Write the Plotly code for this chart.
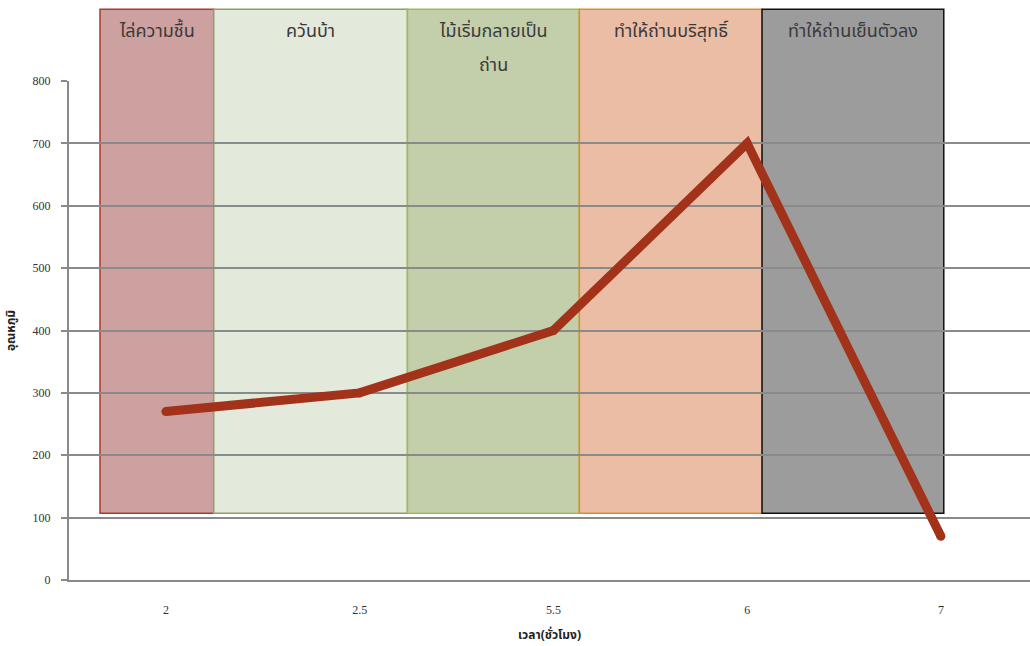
import plotly.graph_objects as go

categories = ["2", "2.5", "5.5", "6", "7"]
temperature = [270, 300, 400, 700, 70]

stage_labels = ["ไล่ความชื้น", "ควันบ้า", "ไม้เริ่มกลายเป็น<br>ถ่าน", "ทำให้ถ่านบริสุทธิ์", "ทำให้ถ่านเย็นตัวลง"]
stage_x0 = [-0.34, 0.247, 1.247, 2.134, 3.077]
stage_x1 = [0.247, 1.247, 2.134, 3.077, 4.015]
stage_fill = ["#cda1a0", "#e3e9db", "#c3cfab", "#ecbda5", "#9c9c9c"]
stage_line = ["#b03a22", "#8fa063", "#9bbb59", "#e38b2c", "#111111"]

y_max = 800
box_bottom = 107
box_top_paper = 1.144
label_line_step = 0.068

THAI = "Noto Sans Thai, Tahoma, Noto Sans, sans-serif"
SERIF = "Liberation Serif, Times New Roman, serif"

fig = go.Figure()
fig.add_trace(go.Scatter(
    x=list(range(len(categories))), y=temperature, mode="lines+markers",
    line=dict(color="#a2331a", width=9), marker=dict(color="#a2331a", size=9),
    hoverinfo="skip", showlegend=False,
))

shapes = []
annotations = []
for lbl, x0, x1, fc, lc in zip(stage_labels, stage_x0, stage_x1, stage_fill, stage_line):
    shapes.append(dict(type="rect", xref="x", yref="paper", x0=x0, x1=x1,
                       y0=box_bottom / y_max, y1=box_top_paper,
                       fillcolor=fc, line=dict(color=lc, width=1.5), layer="below"))
    for i, part in enumerate(lbl.split("<br>")):
        annotations.append(dict(xref="x", yref="paper", x=(x0 + x1) / 2,
                                y=box_top_paper - 0.045 - i * label_line_step,
                                text=part, showarrow=False, yanchor="middle", xanchor="center",
                                font=dict(family=THAI, size=18, color="#3a3a3a")))

fig.update_layout(
    width=1030, height=646,
    margin=dict(l=69, r=0, t=81, b=66),
    paper_bgcolor="white", plot_bgcolor="white",
    shapes=shapes, annotations=annotations,
    xaxis=dict(
        tickmode="array", tickvals=list(range(len(categories))), ticktext=categories,
        range=[-0.5, 4.46], showgrid=False, zeroline=False,
        showline=True, linecolor="#8a8a8a", linewidth=2, ticks="",
        ticklabelstandoff=18,
        tickfont=dict(family=SERIF, size=12, color="#333"),
        title=dict(text="<b>เวลา(ชั่วโมง)</b>", font=dict(family=THAI, size=12, color="#222"), standoff=14),
    ),
    yaxis=dict(
        range=[0, y_max], dtick=100, showgrid=True, gridcolor="#8a8a8a", gridwidth=1.5,
        zeroline=False, showline=True, linecolor="#8a8a8a", linewidth=2,
        ticks="outside", ticklen=6, tickcolor="#8a8a8a", tickwidth=1.5,
        ticklabelstandoff=8,
        tickfont=dict(family=SERIF, size=12, color="#333"),
        title=dict(text="<b>อุณหภูมิ</b>", font=dict(family=THAI, size=12, color="#222"), standoff=14),
    ),
)

fig.write_html("out.html")
